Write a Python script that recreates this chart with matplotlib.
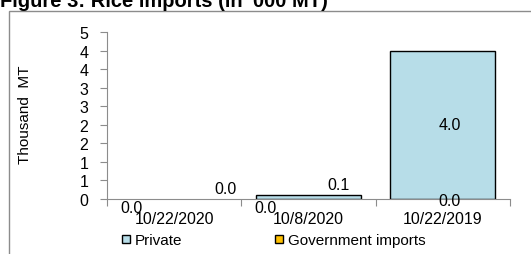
import matplotlib
matplotlib.use("Agg")
import matplotlib.pyplot as plt
from matplotlib.lines import Line2D
from matplotlib.patches import Rectangle

# data
categorias = ["10/22/2020", "10/8/2020", "10/22/2019"]
privado = [0.0, 0.1, 4.0]
governo = [0.0, 0.0, 0.0]
y_ticks = [0, 0.5, 1, 1.5, 2, 2.5, 3, 3.5, 4, 4.5]
y_tick_labels = ["0", "1", "1", "2", "2", "3", "3", "4", "4", "5"]

plt.rcParams["font.family"] = ["Liberation Sans", "DejaVu Sans"]

W, H = 531, 255
fig = plt.figure(figsize=(W / 100, H / 100), dpi=100)

# outer chart frame (gray box, partly off the canvas)
fig.patches.append(Rectangle((8.5 / W, -0.2), 1.2, (H - 12) / H + 0.2,
                             transform=fig.transFigure, fill=False,
                             edgecolor="#8c8c8c", linewidth=1.0))

fig.text(0.0, 1 - 7 / H, "Figure 3: Rice imports (in '000 MT)",
         fontsize=14.5, fontweight="bold", va="baseline", ha="left")

ax = fig.add_axes([107 / W, 55 / H, (510 - 107) / W, (200 - 33) / H])

x = list(range(len(categorias)))
ax.bar(x, privado, width=0.78, color="#b7dde8", edgecolor="black",
       linewidth=[1.0 if v > 0 else 0 for v in privado], zorder=2)
ax.bar(x, governo, width=0.78, bottom=privado, color="#ffc000",
       edgecolor="black",
       linewidth=[1.0 if v > 0 else 0 for v in governo], zorder=2)

# data labels, placed as in the reference
pos_privado = [(0.38, 0.27), (0.22, 0.40), (0.05, None)]
pos_governo = [(-0.32, -0.22), (-0.32, -0.22), (0.05, -0.05)]
for i in x:
    dx, dy = pos_privado[i]
    yy = privado[i] / 2 if dy is None else dy
    ax.text(i + dx, yy, f"{privado[i]:.1f}", ha="center", va="center",
            fontsize=11.5, zorder=3)
    dx, dy = pos_governo[i]
    ax.text(i + dx, dy, f"{governo[i]:.1f}", ha="center", va="center",
            fontsize=11.5, zorder=3)

ax.set_xlim(-0.5, len(categorias) - 0.5)
ax.set_ylim(0, 4.5)
ax.set_yticks(y_ticks)
ax.set_yticklabels(y_tick_labels, fontsize=11.5)
ax.set_xticks([i - 0.5 for i in range(len(categorias) + 1)])
ax.set_xticklabels([])
ax.set_xticks(x, minor=True)
ax.set_xticklabels(categorias, minor=True, fontsize=11.5)
ax.tick_params(axis="x", which="major", direction="out", length=5,
               color="#8c8c8c")
ax.tick_params(axis="x", which="minor", length=0, pad=9)
ax.tick_params(axis="y", direction="out", length=5, color="#8c8c8c",
               pad=8.5)

for lado in ["top", "right"]:
    ax.spines[lado].set_visible(False)
for lado in ["left", "bottom"]:
    ax.spines[lado].set_color("#8c8c8c")

fig.text(25 / W, 1 - 115 / H, "Thousand  MT", rotation=90,
         ha="center", va="center", fontsize=11)

handles = [
    Line2D([], [], marker="s", linestyle="none", markersize=6,
           markerfacecolor="#b7dde8", markeredgecolor="black"),
    Line2D([], [], marker="s", linestyle="none", markersize=6,
           markerfacecolor="#ffc000", markeredgecolor="black"),
]
fig.legend(handles, ["Private", "Government imports"], ncol=2,
           loc="center", bbox_to_anchor=(0.515, 14 / H), frameon=False,
           fontsize=11, handlelength=0.6, handletextpad=0.3,
           columnspacing=6.0)

fig.savefig("out.png", dpi=100)
